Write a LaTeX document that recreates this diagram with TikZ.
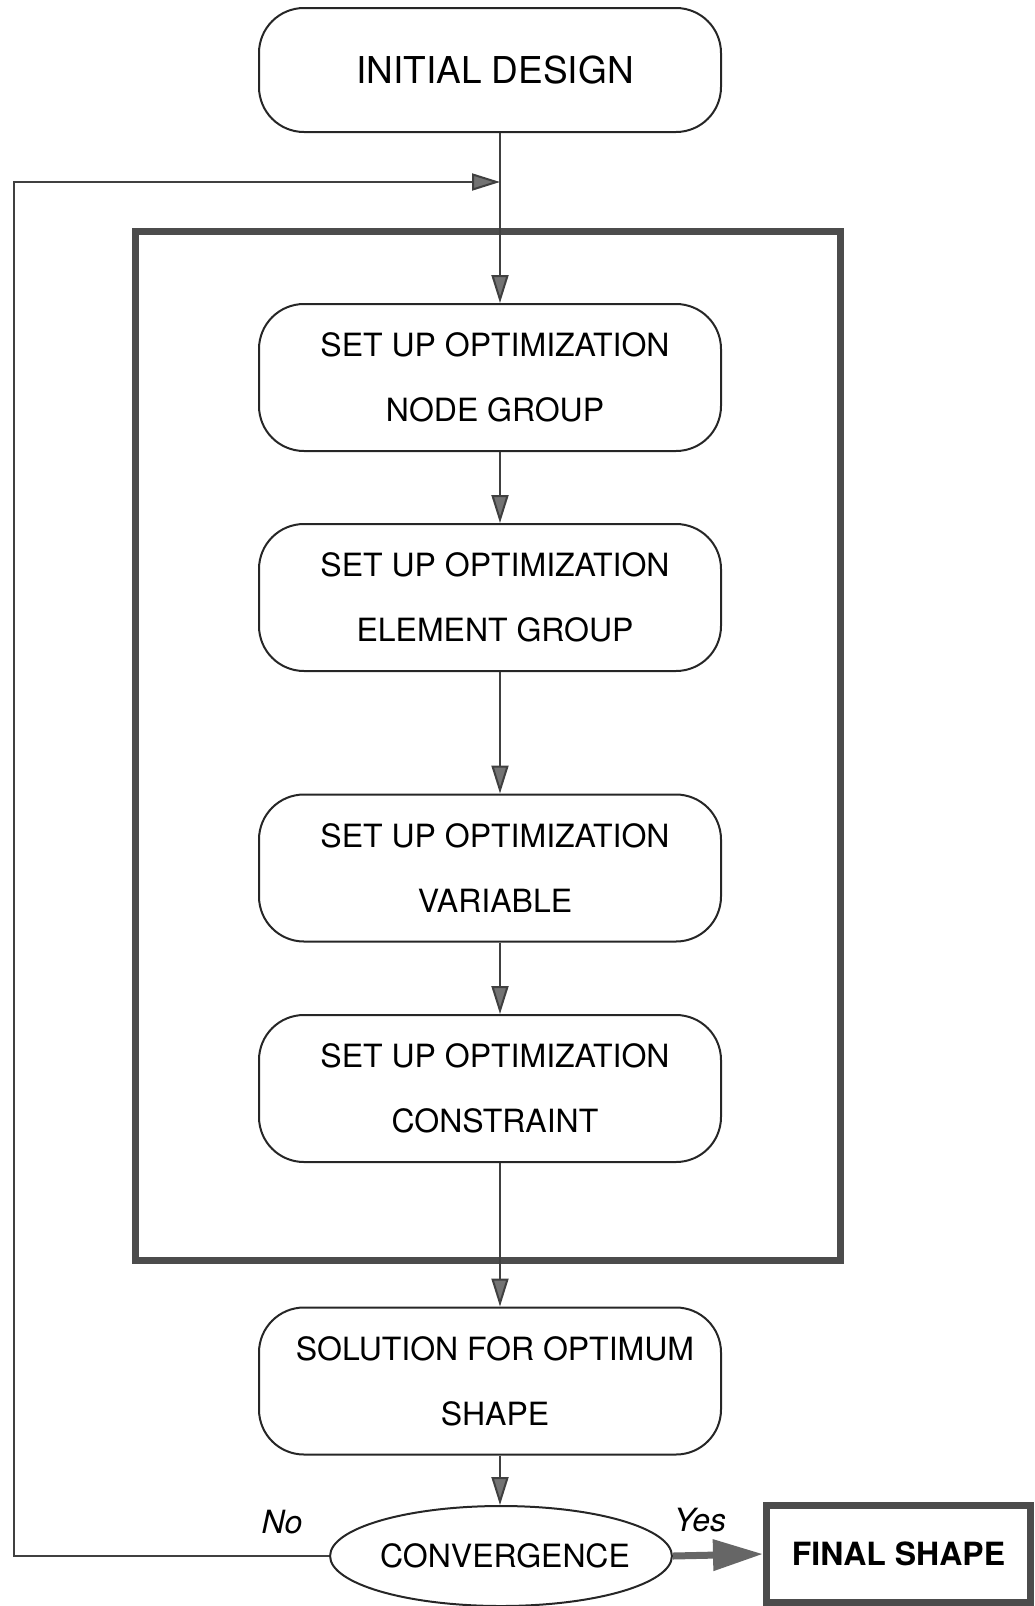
\documentclass[tikz,border=0pt]{standalone}
\usepackage{fontspec}
\setmainfont{TeX Gyre Heros}
\usetikzlibrary{arrows.meta,shapes.geometric}
\newcommand{\twolines}[2]{\hspace*{10pt}#1\\\hspace*{10pt}#2}
\begin{document}
\begin{tikzpicture}[x=1pt,y=-1pt,
  proc/.style={draw=black!85, line width=2pt, rounded corners=45pt,
    minimum width=462pt, minimum height=147pt, align=center, inner sep=0pt,
    font=\fontsize{32}{65}\selectfont},
  conn/.style={draw=black!75, line width=2pt,
    -{Triangle[length=28pt,width=17pt,fill=black!55]}},
  frame/.style={draw=black!70, line width=7pt},
  lbl/.style={font=\fontsize{32}{38}\selectfont\itshape, inner sep=0pt}
]
\useasboundingbox (0,0) rectangle (1034,1606);
\coordinate (ax) at (500,0);

\node[proc, minimum height=124pt, font=\fontsize{37}{44}\selectfont] (init) at (490,70) {\hspace*{10pt}INITIAL DESIGN};

\draw[frame] (135,231) rectangle (840,1260);

\node[proc] (b1) at (490,377.5) {\twolines{SET UP OPTIMIZATION}{NODE GROUP}};
\node[proc] (b2) at (490,597.5) {\twolines{SET UP OPTIMIZATION}{ELEMENT GROUP}};
\node[proc] (b3) at (490,868) {\twolines{SET UP OPTIMIZATION}{VARIABLE}};
\node[proc] (b4) at (490,1088.5) {\twolines{SET UP OPTIMIZATION}{CONSTRAINT}};
\node[proc] (b5) at (490,1381) {\twolines{SOLUTION FOR OPTIMUM}{SHAPE}};

\node[draw=black!85, line width=2pt, ellipse, minimum width=338pt, minimum height=100pt,
  inner xsep=-8pt, inner ysep=0pt, font=\fontsize{32}{38}\selectfont] (conv) at (501,1556) {\hspace*{8pt}CONVERGENCE};

\node[draw=black!70, line width=7pt, minimum width=264pt, minimum height=97pt,
  inner sep=0pt, font=\fontsize{32}{38}\selectfont\bfseries] (final) at (898.5,1554) {FINAL SHAPE};

\draw[conn] (init.south -| ax) -- (b1.north -| ax);
\draw[conn] (b1.south -| ax) -- (b2.north -| ax);
\draw[conn] (b2.south -| ax) -- (b3.north -| ax);
\draw[conn] (b3.south -| ax) -- (b4.north -| ax);
\draw[conn] (b4.south -| ax) -- (b5.north -| ax);
\draw[conn] (b5.south -| ax) -- (conv.north -| ax);

\coordinate (fbL) at (14,182);
\coordinate (fbJ) at (500,182);
\draw[conn] (conv.west) -- (conv.west -| fbL) -- (fbL) -- (fbJ);

\draw[draw=black!60, line width=7pt,
  -{Triangle[length=50pt,width=30pt,fill=black!60]}] (conv.east) -- (final.west);

\node[lbl] (no) at (282,1522) {No};
\node[lbl] (yes) at (700,1520) {Yes};
\end{tikzpicture}
\end{document}
